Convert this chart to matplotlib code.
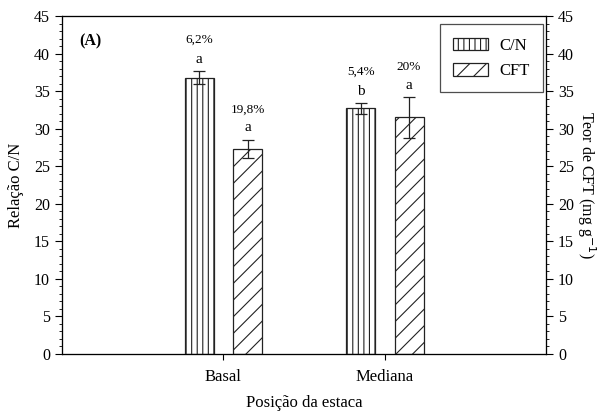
import numpy as np
import matplotlib.pyplot as plt
from matplotlib.ticker import MultipleLocator

plt.rcParams['font.family'] = ['Liberation Serif', 'DejaVu Serif']
plt.rcParams['hatch.linewidth'] = 0.8

positions = ['Basal', 'Mediana']
cn_values = [36.8, 32.7]
cn_err = [0.85, 0.7]
cft_values = [27.3, 31.5]
cft_err = [1.2, 2.7]
cn_letters = ['a', 'b']
cft_letters = ['a', 'a']
cn_cv = ['6,2%', '5,4%']
cft_cv = ['19,8%', '20%']

fig = plt.figure(figsize=(6.07, 4.12), dpi=100)
ax = fig.add_axes([0.102, 0.141, 0.798, 0.820])

x = np.arange(1, len(positions) + 1)
w = 0.18
off = 0.15

ekw = dict(elinewidth=0.9, capthick=0.9, ecolor='#222222')
ax.bar(x - off, cn_values, w, yerr=cn_err, color='white', edgecolor='#222222',
       hatch='|||', linewidth=0.9, capsize=4, error_kw=ekw, label='C/N')
ax.bar(x + off, cft_values, w, yerr=cft_err, color='white', edgecolor='#222222',
       hatch='//', linewidth=0.9, capsize=4, error_kw=ekw, label='CFT')

# letters and coefficients of variation above each bar
for xi, v, e, let, cv in zip(x - off, cn_values, cn_err, cn_letters, cn_cv):
    ax.text(xi, v + e + 1.6, let, ha='center', va='center', fontsize=11)
    ax.text(xi, v + e + 4.2, cv, ha='center', va='center', fontsize=9.5)
for xi, v, e, let, cv in zip(x + off, cft_values, cft_err, cft_letters, cft_cv):
    ax.text(xi, v + e + 1.6, let, ha='center', va='center', fontsize=11)
    ax.text(xi, v + e + 4.0, cv, ha='center', va='center', fontsize=9.5)

ax.set_xlim(0, 3)
ax.set_ylim(0, 45)
ax.set_xticks(x)
ax.set_xticklabels(positions, fontsize=12)
ax.yaxis.set_major_locator(MultipleLocator(5))
ax.yaxis.set_minor_locator(MultipleLocator(1))
ax.tick_params(axis='y', which='major', labelsize=11.5, length=5, width=0.8)
ax.tick_params(axis='y', which='minor', length=2.5, width=0.6)
ax.tick_params(axis='x', length=4, width=0.8, pad=7)
ax.set_xlabel('Posição da estaca', fontsize=12, labelpad=7)
ax.set_ylabel('Relação C/N', fontsize=12, labelpad=7)
for s in ax.spines.values():
    s.set_linewidth(0.9)
    s.set_color('#333333')

ax2 = ax.twinx()
ax2.set_ylim(0, 45)
ax2.yaxis.set_major_locator(MultipleLocator(5))
ax2.yaxis.set_minor_locator(MultipleLocator(1))
ax2.tick_params(axis='y', which='major', labelsize=11.5, length=5, width=0.8)
ax2.tick_params(axis='y', which='minor', length=2.5, width=0.6)
ax2.set_ylabel('Teor de CFT (mg g$^{-1}$)', fontsize=11.5, rotation=270, labelpad=17)

ax.text(0.11, 41.6, '(A)', fontsize=11.5, fontweight='bold', ha='left', va='center')

leg = ax.legend(loc='upper right', bbox_to_anchor=(0.994, 0.976), fontsize=12,
                frameon=True, fancybox=False, edgecolor='#222222', borderaxespad=0,
                handlelength=2.1, handleheight=0.8, borderpad=0.8, labelspacing=0.55,
                handletextpad=0.7)
leg.get_frame().set_linewidth(0.9)

fig.savefig('out.png', dpi=100)
